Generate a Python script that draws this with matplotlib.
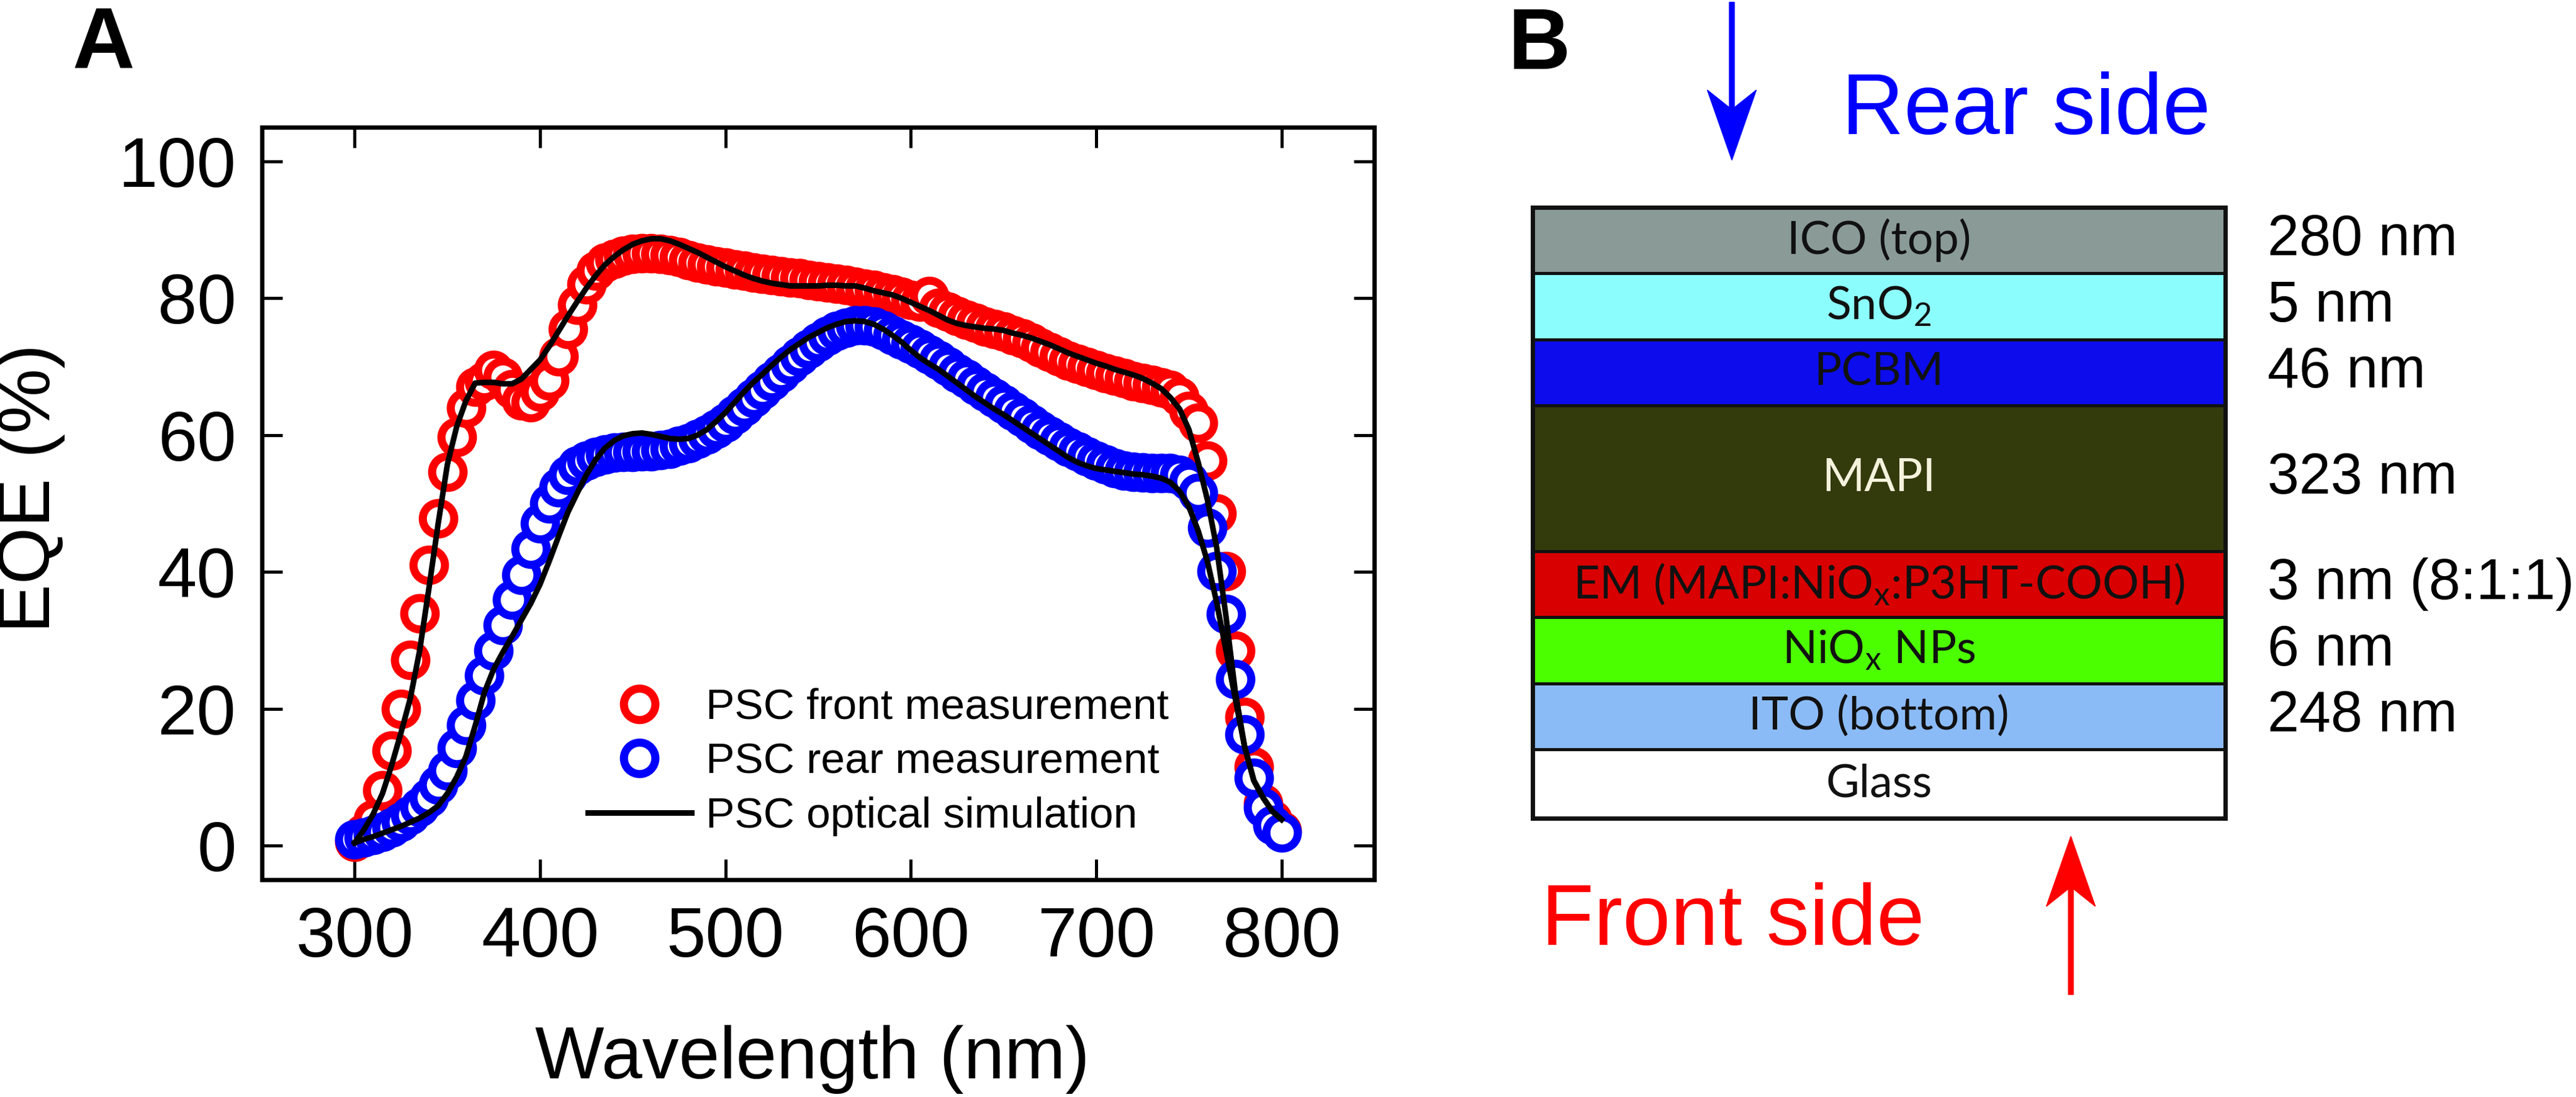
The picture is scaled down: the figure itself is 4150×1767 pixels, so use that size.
import numpy as np
import matplotlib
matplotlib.use("Agg")
import matplotlib.pyplot as plt
from matplotlib.patches import FancyArrow

plt.rcParams['font.family'] = ['Liberation Sans', 'DejaVu Sans']
plt.rcParams['mathtext.fontset'] = 'custom'
plt.rcParams['mathtext.rm'] = 'Lato'
plt.rcParams['mathtext.it'] = 'Lato:italic'

# ---- panel A data (EQE, %) ----
wavelength = np.arange(300, 801, 5)

front_eqe = [0.5, 1.8, 3.8, 8.1, 13.9, 20.0, 27.1, 33.9, 41.0, 47.8,
             54.6, 59.7, 64.0, 67.1, 67.9, 69.5, 68.5, 66.7, 65.1, 64.8,
             66.3, 68.0, 71.5, 75.5, 79.0, 82.0, 84.0, 85.2, 85.8, 86.2,
             86.5, 86.6, 86.6, 86.5, 86.3, 86.0, 85.6, 85.2, 84.9, 84.7,
             84.5, 84.2, 84.0, 83.8, 83.6, 83.4, 83.2, 83.0, 82.9, 82.7,
             82.5, 82.3, 82.1, 81.9, 81.7, 81.4, 81.2, 80.9, 80.6, 80.2,
             79.8, 79.5, 80.3, 78.6, 78.0, 77.4, 76.9, 76.4, 75.9, 75.5,
             75.1, 74.6, 74.1, 73.5, 72.8, 72.1, 71.5, 70.9, 70.4, 70.0,
             69.5, 69.1, 68.7, 68.3, 67.9, 67.6, 67.3, 67.0, 66.6, 65.6,
             63.5, 61.8, 56.3, 48.5, 40.1, 28.5, 18.8, 11.5, 6.2, 3.8,
             2.2]

rear_eqe = [0.9, 1.2, 1.5, 2.0, 2.6, 3.4, 4.4, 5.6, 7.0, 8.9,
            11.0, 14.2, 17.6, 21.2, 24.9, 28.5, 32.2, 35.9, 39.6, 43.4,
            47.1, 50.0, 52.4, 54.2, 55.5, 56.3, 56.8, 57.2, 57.4, 57.5,
            57.5, 57.6, 57.6, 57.8, 58.0, 58.4, 58.8, 59.4, 60.1, 60.9,
            61.8, 63.0, 64.2, 65.4, 66.6, 67.9, 69.1, 70.3, 71.5, 72.6,
            73.6, 74.5, 75.2, 75.7, 76.0, 76.0, 75.9, 75.3, 74.6, 74.0,
            73.3, 72.6, 71.8, 71.0, 70.1, 69.1, 68.2, 67.2, 66.3, 65.4,
            64.5, 63.5, 62.6, 61.6, 60.7, 59.9, 59.1, 58.3, 57.6, 56.9,
            56.3, 55.7, 55.2, 54.8, 54.6, 54.5, 54.4, 54.4, 54.4, 54.2,
            53.3, 51.5, 46.5, 40.1, 33.8, 24.3, 16.2, 9.9, 5.5, 3.0,
            1.9]

front_sim = [0.4, 2.3, 4.6, 7.6, 11.8, 16.5, 21.5, 28.4, 37.5, 47.0,
             55.7, 61.2, 65.0, 67.6, 67.7, 67.7, 67.5, 67.5, 68.2, 69.6,
             71.0, 73.0, 75.2, 77.4, 79.5, 81.5, 83.3, 84.9, 86.1, 87.1,
             87.9, 88.4, 88.7, 88.7, 88.4, 87.9, 87.3, 86.7, 86.0, 85.3,
             84.6, 84.0, 83.4, 82.9, 82.5, 82.2, 82.0, 81.8, 81.8, 81.8,
             81.8, 81.9, 81.9, 81.8, 81.8, 81.5, 81.1, 80.8, 80.5, 80.0,
             79.4, 78.8, 78.2, 77.5, 76.8, 76.3, 76.0, 75.8, 75.6, 75.5,
             75.3, 74.9, 74.6, 74.2, 73.7, 73.2, 72.6, 72.0, 71.5, 71.0,
             70.5, 70.1, 69.6, 69.2, 68.8, 68.3, 67.6, 66.8, 65.5, 63.8,
             60.8, 56.0, 50.5, 43.5, 33.5, 22.5, 14.5, 9.5, 7.0, 5.0,
             3.8]

rear_sim = [0.4, 0.9, 1.3, 1.8, 2.3, 2.8, 3.4, 4.0, 4.8, 5.8,
            7.6, 10.0, 13.0, 17.5, 22.4, 25.8, 28.3, 30.6, 33.0, 35.4,
            38.2, 41.6, 45.2, 48.7, 51.5, 54.2, 56.4, 58.1, 59.2, 59.9,
            60.2, 60.3, 60.1, 59.8, 59.5, 59.4, 59.5, 60.0, 60.8, 62.0,
            63.3, 64.8, 66.3, 67.7, 68.9, 70.2, 71.4, 72.5, 73.4, 74.3,
            75.0, 75.7, 76.2, 76.6, 76.7, 76.6, 76.2, 75.5, 74.6, 73.6,
            72.4, 71.3, 70.4, 69.6, 68.6, 67.6, 66.6, 65.6, 64.7, 63.8,
            63.0, 62.1, 61.2, 60.3, 59.4, 58.5, 57.6, 56.7, 56.0, 55.5,
            55.1, 54.9, 54.7, 54.5, 54.3, 54.2, 54.0, 53.7, 53.1, 51.8,
            49.5, 46.0, 41.5, 35.5, 28.5, 21.5, 14.5, 9.5, 7.0, 5.0,
            3.8]

# ---- panel B data (device stack, top to bottom) ----
layer_names = ['ICO (top)', 'SnO$_2$', 'PCBM', 'MAPI',
               'EM (MAPI:NiO$_\\mathrm{x}$:P3HT-COOH)',
               'NiO$_\\mathrm{x}$ NPs', 'ITO (bottom)', 'Glass']
layer_thickness = ['280 nm', '5 nm', '46 nm', '323 nm', '3 nm (8:1:1)',
                   '6 nm', '248 nm', '']
layer_colors = ['#8a9a97', '#8cfdfd', '#0c0cec', '#333a0c', '#d80000',
                '#4cff00', '#8bbbf7', '#ffffff']
layer_text_colors = ['#111111', '#111111', '#111111', '#f5f2dc', '#111111',
                     '#111111', '#111111', '#111111']
layer_draw_height = [1, 1, 1, 2.2, 1, 1, 1, 1.04]

fig = plt.figure(figsize=(41.5, 17.67), dpi=100)

# ---------------- panel A ----------------
ax = fig.add_axes([0.1017, 0.1981, 0.4318, 0.6859])
ax.plot(wavelength, front_eqe, 'o', ms=36.5, mew=9.4, mec='#ff0000', mfc='white',
        label='PSC front measurement')
ax.plot(wavelength, rear_eqe, 'o', ms=36.5, mew=9.4, mec='#0000ff', mfc='white',
        label='PSC rear measurement')
ax.plot(wavelength, front_sim, '-', color='black', lw=6.5, label='PSC optical simulation')
ax.plot(wavelength, rear_sim, '-', color='black', lw=6.5, label='_nolegend_')

ax.set_xlim(250, 850)
ax.set_ylim(-5, 105)
ax.set_xticks([300, 400, 500, 600, 700, 800])
ax.set_yticks([0, 20, 40, 60, 80, 100])
ax.tick_params(direction='in', length=24, width=3.6, labelsize=82,
               top=True, right=True)
ax.tick_params(axis='x', pad=30)
ax.tick_params(axis='y', pad=30)
for s in ax.spines.values():
    s.set_linewidth(5)

fig.text(0.3154, 0.017, 'Wavelength (nm)', ha='center', va='baseline', fontsize=85)
fig.text(0.012, 0.555, 'EQE (%)', ha='center', va='center', rotation=90, fontsize=85)

ax.legend(loc='upper left', bbox_to_anchor=(0.293, 0.255), frameon=False,
          fontsize=50, handlelength=2.4, handletextpad=0.34, borderpad=0,
          borderaxespad=0, labelspacing=0.34, numpoints=1)

fig.text(0.0282, 0.9377, 'A', fontsize=100, fontweight='bold', ha='left', va='baseline')

# ---------------- panel B ----------------
axb = fig.add_axes([0.5949, 0.2541, 0.2689, 0.5569])
total = sum(layer_draw_height)
axb.set_xlim(0, 1)
axb.set_ylim(total, 0)
bottoms = np.cumsum([0] + layer_draw_height[:-1])
axb.bar(0.5, layer_draw_height, bottom=bottoms, width=1, align='center',
        color=layer_colors, edgecolor='#111111', linewidth=3.6)
for name, thick, tc, b, h in zip(layer_names, layer_thickness, layer_text_colors,
                                 bottoms, layer_draw_height):
    yc = b + h / 2
    axb.text(0.5, yc, name, ha='center', va='center', fontsize=53,
             family=['Lato', 'DejaVu Sans'], color=tc)
    axb.text(1.061, yc, thick, ha='left', va='center', fontsize=66, clip_on=False)
axb.set_xticks([])
axb.set_yticks([])
for s in axb.spines.values():
    s.set_linewidth(5)
    s.set_color('#111111')

fig.text(0.5855, 0.9372, 'B', fontsize=100, fontweight='bold', ha='left', va='baseline')

fig.text(0.7149, 0.8778, 'Rear side', color='#0000ff', fontsize=100,
         ha='left', va='baseline')
fig.text(0.5983, 0.1387, 'Front side', color='#ff0000', fontsize=100,
         ha='left', va='baseline')

fig.add_artist(FancyArrow(0.6723, 0.998, 0, 0.854 - 0.998, width=8 / 4150,
                          head_width=79 / 4150, head_length=113 / 1767,
                          length_includes_head=True, overhang=0.25,
                          color='#0000ff', transform=fig.transFigure))
fig.add_artist(FancyArrow(0.8039, 0.0934, 0, 0.2377 - 0.0934, width=8 / 4150,
                          head_width=79 / 4150, head_length=113 / 1767,
                          length_includes_head=True, overhang=0.25,
                          color='#ff0000', transform=fig.transFigure))

fig.savefig('out.png', dpi=100)
